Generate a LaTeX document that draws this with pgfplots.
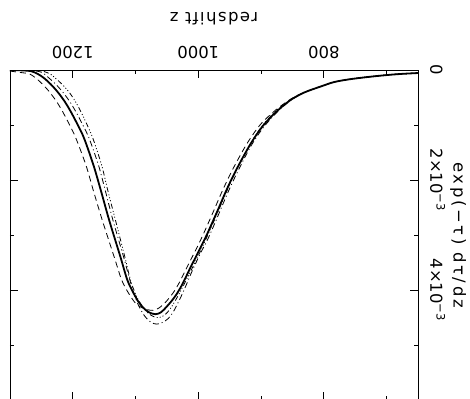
\documentclass[border=0pt]{standalone}
\usepackage{fontspec}
\setmainfont{DejaVu Sans}
\newfontfamily\xlblfam[LetterSpace=9]{DejaVu Sans}
\newfontfamily\ylblfam[LetterSpace=16]{DejaVu Sans}
\usepackage{pgfplots}
\pgfplotsset{compat=1.18}
\usepackage{pgfplotstable}

% visibility function, g in units of 1e-3
\pgfplotstableread{
z g
1300 0.000
1285 0.005
1267 0.02
1256 0.07
1246 0.145
1235 0.26
1224 0.40
1213 0.57
1203 0.76
1192 1.00
1182 1.24
1167 1.73
1155 2.20
1142 2.73
1124 3.40
1113 3.82
1103 4.06
1095 4.22
1087 4.33
1078 4.41
1068 4.44
1060 4.41
1055 4.36
1044 4.22
1036 4.10
1028 3.95
1020 3.77
1012 3.58
996 3.22
985 2.96
969 2.55
953 2.13
937 1.76
916 1.33
896 1.00
873 0.73
853 0.545
837 0.44
825 0.38
805 0.30
784 0.22
760 0.17
730 0.127
698 0.09
675 0.07
650 0.055
}\solid

\pgfplotstableread{
z g
1300 0.02
1280 0.05
1269 0.07
1259 0.145
1248 0.26
1237 0.40
1226 0.57
1216 0.76
1205 1.00
1195 1.24
1179 1.73
1167 2.20
1153 2.73
1134 3.40
1122 3.82
1111 4.06
1100 4.24
1090 4.32
1080 4.36
1072 4.37
1063 4.33
1052 4.22
1040 4.05
1030 3.86
1020 3.63
1004 3.27
993 3.01
977 2.60
961 2.18
944 1.78
922 1.33
901 0.99
877 0.73
855 0.545
838 0.44
825 0.38
805 0.30
784 0.22
760 0.17
730 0.127
698 0.09
675 0.07
650 0.055
}\dashed

\pgfplotstableread{
z g
1300 0.000
1270 0.005
1250 0.04
1238 0.145
1227 0.26
1216 0.40
1205 0.57
1195 0.76
1184 1.00
1174 1.24
1159 1.73
1148 2.20
1136 2.73
1119 3.40
1109 3.82
1100 4.15
1093 4.33
1085 4.48
1075 4.59
1066 4.62
1057 4.59
1048 4.52
1040 4.40
1030 4.18
1020 3.93
1010 3.66
996 3.32
985 3.08
969 2.66
953 2.23
937 1.84
916 1.38
896 1.04
873 0.75
853 0.555
837 0.445
825 0.38
805 0.30
784 0.22
760 0.17
730 0.127
698 0.09
675 0.07
650 0.055
}\dashdot

\pgfplotstableread{
z g
1300 0.000
1260 0.005
1245 0.03
1235 0.08
1228 0.145
1217 0.26
1206 0.40
1196 0.57
1187 0.76
1177 1.00
1168 1.24
1154 1.73
1144 2.20
1132 2.73
1117 3.40
1108 3.82
1099 4.10
1090 4.28
1080 4.42
1070 4.49
1062 4.50
1053 4.45
1044 4.33
1033 4.12
1017 3.77
1001 3.40
990 3.13
974 2.72
958 2.29
942 1.88
921 1.42
901 1.06
878 0.76
855 0.56
838 0.445
825 0.38
805 0.30
784 0.22
760 0.17
730 0.127
698 0.09
675 0.07
650 0.055
}\dashdotdot

\newcommand{\lblfont}{\fontsize{16.5}{19}\selectfont}

\begin{document}
\begin{tikzpicture}
\begin{axis}[
  scale only axis,
  width=408bp, height=330bp,
  xmin=650, xmax=1300, ymin=0, ymax=6,
  x dir=reverse, y dir=reverse,
  xtick={800,1000,1200}, minor xtick={700,900,1100},
  xticklabels={800,1000,1200},
  ytick={0,2,4}, minor ytick={1,3,5},
  yticklabels={0,2×10\textsuperscript{−3},4×10\textsuperscript{−3}},
  xticklabel pos=right, yticklabel pos=right,
  tick align=inside,
  major tick length=8bp, minor tick length=4bp,
  tick style={black, line width=0.7bp},
  axis line style={line width=0.8bp},
  xticklabel style={yshift=11bp, rotate=180, anchor=north, inner sep=0pt, font=\lblfont},
  yticklabel style={xshift=12bp, rotate=-90, anchor=south, inner sep=0pt, font=\lblfont},
  every axis x label/.style={at={(axis cs:975,0)}, anchor=north, yshift=45bp, rotate=180, inner sep=0pt, font=\xlblfam\lblfont},
  every axis y label/.style={at={(axis cs:650,3)}, anchor=south, xshift=32bp, rotate=-90, inner sep=0pt, font=\ylblfam\lblfont},
  xlabel={redshift z},
  ylabel={exp(−τ) dτ/dz},
]
\addplot[black, line width=1.8bp, smooth, no markers] table[x=z,y=g] {\solid};
\addplot[black, line width=0.8bp, dash pattern=on 6bp off 4bp, smooth, no markers] table[x=z,y=g] {\dashed};
\addplot[black, line width=0.8bp, dash pattern=on 6bp off 3bp on 1bp off 3bp, smooth, no markers] table[x=z,y=g] {\dashdot};
\addplot[black, line width=0.8bp, dash pattern=on 5bp off 2.5bp on 1bp off 2bp on 1bp off 2bp on 1bp off 2.5bp, smooth, no markers] table[x=z,y=g] {\dashdotdot};
\coordinate (BL) at (axis cs:1300,6);
\end{axis}
\pgfresetboundingbox
\path[use as bounding box] ([shift={(-10bp,1bp)}]BL) rectangle ++(470bp,399bp);
\end{tikzpicture}
\end{document}
